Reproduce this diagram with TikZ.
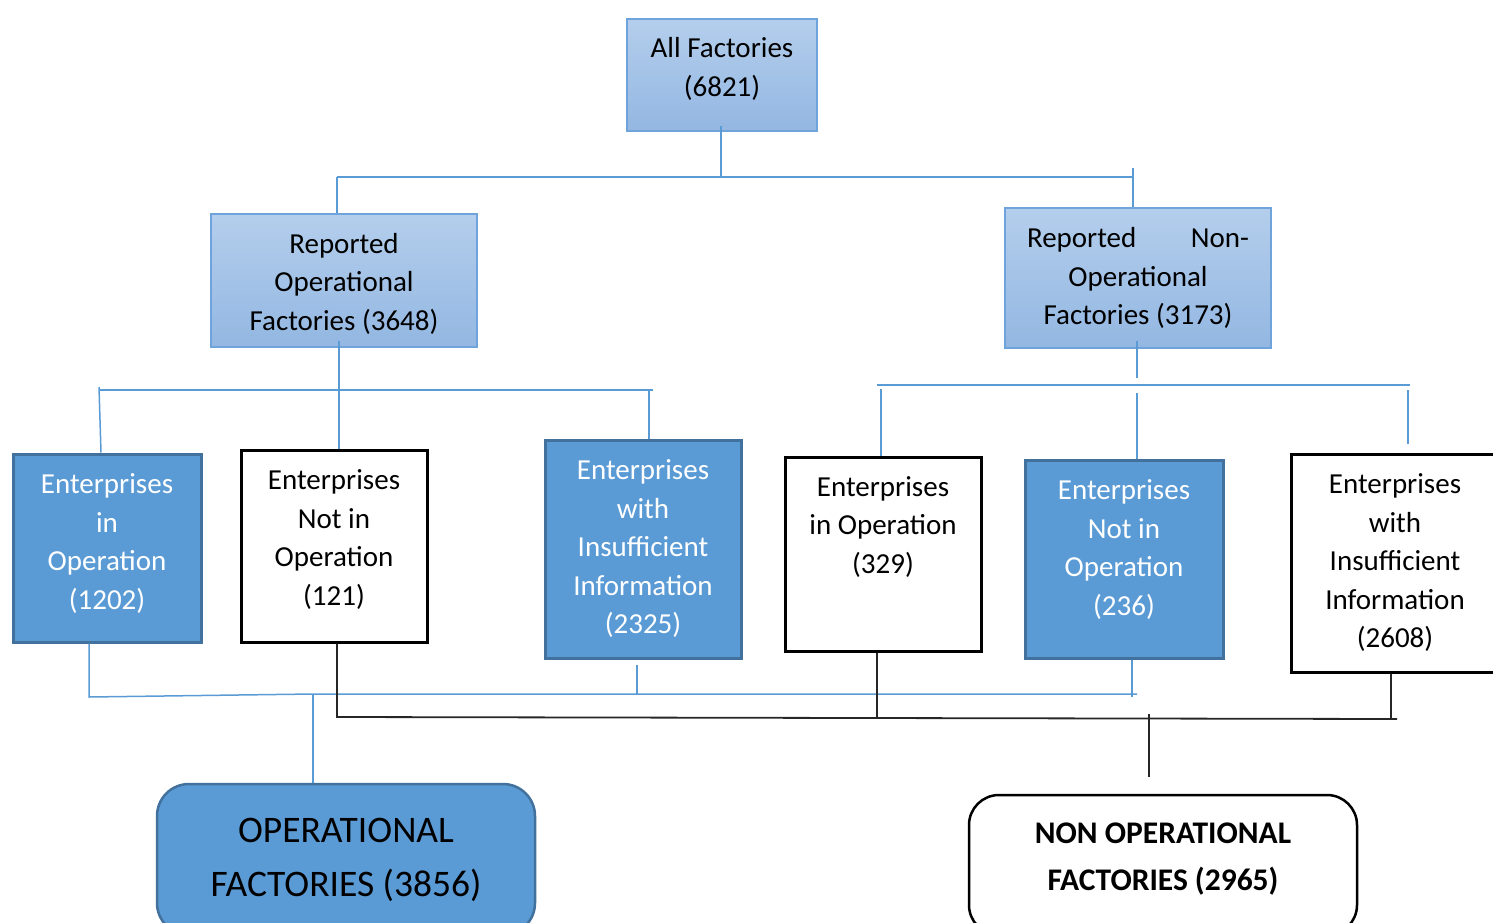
\documentclass[tikz,border=0pt]{standalone}
\usepackage{fontspec}
\setmainfont{Carlito}
\definecolor{bfill}{HTML}{5B9BD5}
\definecolor{bdraw}{HTML}{41719C}
\definecolor{gtop}{HTML}{B4CEEC}
\definecolor{gbot}{HTML}{93B7E2}
\definecolor{gdraw}{HTML}{6FA3DC}
\definecolor{bline}{HTML}{5B9BD5}
\newcommand\dpt[1]{\rule[-#1]{0pt}{0pt}}
\newcommand\htt[1]{\rule{0pt}{#1}}
\begin{document}
\begin{tikzpicture}[x=1pt,y=-1pt,
  txt/.style={inner sep=0pt, align=center, font=\fontsize{29}{38.5}\selectfont},
  gbox/.style={txt, draw=gdraw, line width=1.5pt, top color=gtop, bottom color=gbot},
  bbox/.style={txt, draw=bdraw, line width=3pt, fill=bfill, text=white},
  wbox/.style={txt, draw=black, line width=3pt, fill=white},
  bl/.style={draw=bline, line width=1.5pt},
  kl/.style={draw=black!85, line width=1.8pt},
]
\useasboundingbox (0,0) rectangle (1493,923);

% level 1
\node[gbox, minimum width=190pt, minimum height=112pt] (all) at (722,75) {All Factories\\(6821)\dpt{16.5pt}};
% level 2
\node[gbox, minimum width=266pt, minimum height=133pt] (ro) at (344,280.5) {\htt{27pt}Reported\\Operational\\Factories (3648)};
\node[gbox, minimum width=266pt, minimum height=140pt] (rn) at (1138,278) {\makebox[222pt]{Reported\hfill Non-}\\Operational\\Factories (3173)};
% level 3
\node[bbox, minimum width=188pt, minimum height=188pt] (e1) at (107,548) {Enterprises\\in\\Operation\\(1202)\dpt{12.5pt}};
\node[wbox, minimum width=186pt, minimum height=192pt] (e2) at (334,546) {Enterprises\\Not in\\Operation\\(121)\dpt{16.5pt}};
\node[bbox, minimum width=196pt, minimum height=218pt] (e3) at (643,549) {Enterprises\\with\\Insufficient\\Information\\(2325)};
\node[wbox, minimum width=196pt, minimum height=194pt] (e4) at (883,554) {Enterprises\\in Operation\\(329)\\\dpt{20pt}};
\node[bbox, minimum width=198pt, minimum height=198pt] (e5) at (1124,559) {Enterprises\\Not in\\Operation\\(236)\dpt{22.5pt}};
\node[wbox, minimum width=208pt, minimum height=218pt] (e6) at (1395,563) {Enterprises\\with\\Insufficient\\Information\\(2608)};
% level 4
\node[draw=bdraw, line width=2.5pt, fill=bfill, rounded corners=32pt, inner sep=0pt, align=center,
      minimum width=378pt, minimum height=151pt, font=\fontsize{37.5}{54}\selectfont] (op) at (346,859.5)
      {OPERATIONAL\\FACTORIES (3856)};
\node[draw=black, line width=2.5pt, fill=white, rounded corners=30pt, inner sep=0pt, align=center,
      minimum width=388pt, minimum height=140pt, font=\fontsize{31.5}{47}\selectfont\bfseries] (nop) at (1163,865)
      {NON OPERATIONAL\\FACTORIES (2965)\dpt{17pt}};

% top connectors
\coordinate (tA) at (721,177);
\coordinate (busL) at (337,177);
\coordinate (busR) at (1133,177);
\draw[bl] ([yshift=6pt]all.south -| tA) -- (tA);
\draw[bl] (busL) -- (busR);
\draw[bl] (busL) -- (busL |- ro.north);
\draw[bl] ([yshift=9pt]busR) -- (busR |- rn.north);

% left level-3 connectors
\coordinate (lB) at (339,390);
\draw[bl] ([yshift=7pt]ro.south -| lB) -- (lB |- e2.north);
\draw[bl] (100,390) -- (653,390);
\coordinate (lL) at (99,387);
\draw[bl] (lL) -- (e1.north -| 101,0);
\coordinate (lR) at (649,390);
\draw[bl] (lR) -- (lR |- e3.north);

% right level-3 connectors
\coordinate (rB) at (1137,385);
\draw[bl] ([yshift=8pt]rn.south -| rB) -- ([yshift=7pt]rB);
\draw[bl] (877,385) -- (1410,385);
\coordinate (r1) at (881,389);
\draw[bl] (r1) -- (r1 |- e4.north);
\coordinate (r2) at (1137,393);
\draw[bl] (r2) -- (r2 |- e5.north);
\coordinate (r3) at (1408,390);
\draw[bl] (r3) -- ([yshift=9pt]r3 |- e6.north);

% operational bus (blue)
\coordinate (oJ) at (313,694);
\coordinate (oL) at (89,697);
\draw[bl] (e1.south -| oL) -- (oL) -- (oJ) -- (1137,694);
\coordinate (o3) at (637,694);
\draw[bl] ([yshift=-5pt]e3.south -| o3) -- (o3);
\coordinate (o5) at (1132,697);
\draw[bl] (e5.south -| o5) -- (o5);
\draw[bl] (oJ) -- (oJ |- op.north);

% non-operational bus (black)
\coordinate (nL) at (337,717);
\coordinate (nR) at (1397,719);
\draw[kl] (e2.south -| nL) -- (nL) -- (nR);
\coordinate (n4) at (877,718);
\draw[kl] (e4.south -| n4) -- (n4);
\coordinate (n6) at (1391,719);
\draw[kl] (e6.south -| n6) -- (n6);
\coordinate (nJ) at (1149,714);
\draw[kl] (nJ) -- ([yshift=17pt]nJ |- nop.north);
\end{tikzpicture}
\end{document}
